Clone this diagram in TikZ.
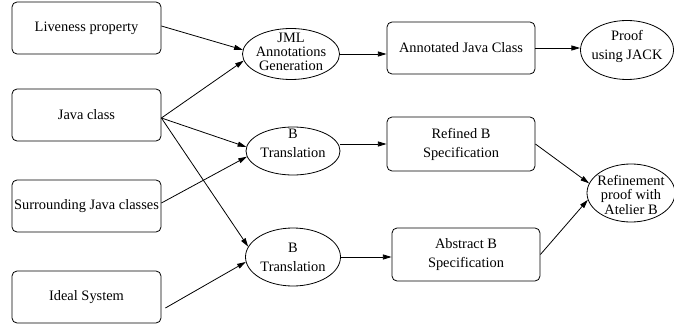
\documentclass[tikz,border=0pt]{standalone}
\usepackage{fontspec}
\setmainfont{Liberation Serif}
\usetikzlibrary{shapes.geometric,arrows.meta}
\begin{document}
\begin{tikzpicture}[x=0.75pt,y=-0.75pt,
  every node/.style={font=\fontsize{10.8}{10.5}\selectfont, align=center, inner sep=0pt},
  twoline/.style={font=\fontsize{10.8}{14.25}\selectfont},
  box/.style={draw, rounded corners=3.75pt, minimum width=111.75pt, minimum height=39pt, line width=0.6pt},
  ell/.style={draw, ellipse, line width=0.6pt},
  arr/.style={-{Triangle[length=6.5pt,width=3.8pt]}, line width=0.6pt}]
\useasboundingbox (0,0) rectangle (674,324);
% left column
\node[box] (live) at (86.5,28) {Liveness property};
\node[box] (java) at (86.5,115) {Java class};
\node[box] (surr) at (86.5,206) {Surrounding Java classes};
\node[box] (ideal) at (86.5,297) {Ideal System};
% ellipses
\node[ell, minimum width=72.75pt, minimum height=38.25pt] (jml) at (291,54) {};
\node (jmlt) at ([yshift=1.5pt]jml.center) {JML\\Annotations\\Generation};
\node[ell, minimum width=70.5pt, minimum height=36pt] (b1) at (293,151) {};
\node[twoline] (b1t) at ([yshift=6pt]b1.center) {B\\Translation};
\node[ell, minimum width=71.25pt, minimum height=43.5pt] (b2) at (293,257) {};
\node[twoline] (b2t) at (b2.center) {B\\Translation};
\node[ell, minimum width=69.75pt, minimum height=44.25pt] (jack) at (627,50) {};
\node[twoline] (jackt) at ([yshift=3pt]jack.center) {Proof\\using JACK};
\node[ell, minimum width=66pt, minimum height=43.5pt] (rp) at (631,193) {};
\node (rpt) at ([yshift=-1.5pt]rp.center) {Refinement\\proof with\\Atelier B};
% middle boxes
\node[box, minimum width=111pt] (annot) at (461,48) {Annotated Java Class};
\node[box, twoline, minimum width=111pt, minimum height=40.5pt] (refined) at (461,144) {Refined B\\Specification};
\node[box, twoline, minimum width=111pt, minimum height=39.75pt] (abstract) at (466,254.5) {Abstract B\\Specification};
% connectors
\draw[arr] ([yshift=1.5pt]live.east) -- (jml.175);
\draw[arr] ([yshift=-2.25pt]java.east) -- (jml.188);
\draw[arr] ([yshift=-2.25pt]java.east) -- (b1.175);
\draw[arr] ([yshift=-2.25pt]java.east) -- (b2.167);
\draw[arr] ([yshift=2.25pt]surr.east) -- (b1.187);
\draw[arr] ([shift={(3pt,-8.25pt)}]ideal.east) -- (b2.186);
\draw[arr] (jml.east) -- (jml.east -| annot.west);
\draw[arr] (annot.east) -- (annot.east -| jack.west);
\draw[arr] (b1.east |- refined.west) -- (refined.west);
\draw[arr] (b2.east) -- (b2.east -| abstract.west);
\draw[arr] (refined.east) -- (rp.167);
\draw[arr] (abstract.east) -- (rp.189);
\end{tikzpicture}
\end{document}
